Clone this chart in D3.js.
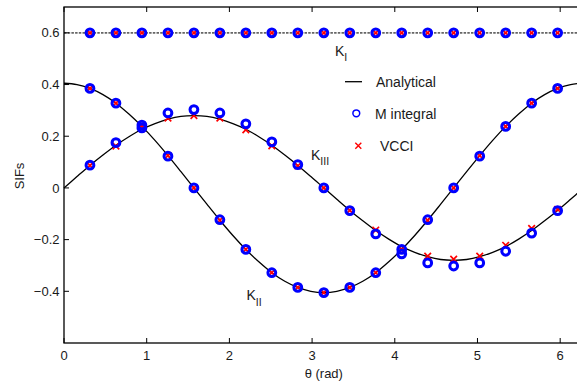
<!DOCTYPE html>
<html>
<head>
<meta charset="utf-8">
<script src="https://cdn.jsdelivr.net/npm/d3@7"></script>
<style>
html,body{margin:0;padding:0;background:#fff;}
svg{display:block;}
text{font-family:"Liberation Sans", Arial, Helvetica, sans-serif;fill:#1a1a1a;}
</style>
</head>
<body>
<svg id="chart" width="577" height="382"></svg>
<script>
// ---- data ----
const theta = [0.314, 0.628, 0.942, 1.257, 1.571, 1.885, 2.199, 2.513, 2.827, 3.142,
               3.456, 3.770, 4.084, 4.398, 4.712, 5.027, 5.341, 5.655, 5.969];
const kI_M    = [0.6,0.6,0.6,0.6,0.6,0.6,0.6,0.6,0.6,0.6,0.6,0.6,0.6,0.6,0.6,0.6,0.6,0.6,0.6];
const kI_VCCI = [0.6,0.6,0.6,0.6,0.6,0.6,0.6,0.6,0.6,0.6,0.6,0.6,0.6,0.6,0.6,0.6,0.6,0.6,0.6];
const kII_M    = [0.385, 0.328, 0.243, 0.123, 0.0, -0.123, -0.238, -0.328, -0.385, -0.405,
                  -0.385, -0.328, -0.238, -0.123, 0.0, 0.123, 0.238, 0.328, 0.385];
const kII_VCCI = [0.385, 0.328, 0.238, 0.125, 0.0, -0.125, -0.238, -0.328, -0.385, -0.405,
                  -0.385, -0.328, -0.238, -0.125, 0.0, 0.125, 0.238, 0.328, 0.385];
const kIII_M    = [0.088, 0.175, 0.232, 0.290, 0.303, 0.290, 0.248, 0.178, 0.090, 0.0,
                   -0.088, -0.178, -0.255, -0.290, -0.302, -0.290, -0.245, -0.175, -0.088];
const kIII_VCCI = [0.087, 0.162, 0.230, 0.270, 0.280, 0.270, 0.225, 0.163, 0.085, 0.0,
                   -0.087, -0.163, -0.240, -0.264, -0.276, -0.264, -0.222, -0.157, -0.083];

const thetaCurve = [0, 0.157, 0.314, 0.471, 0.628, 0.785, 0.942, 1.100, 1.257, 1.414, 1.571,
                    1.728, 1.885, 2.042, 2.199, 2.356, 2.513, 2.670, 2.827, 2.985, 3.142,
                    3.299, 3.456, 3.613, 3.770, 3.927, 4.084, 4.241, 4.398, 4.555, 4.712,
                    4.869, 5.027, 5.184, 5.341, 5.498, 5.655, 5.812, 5.969, 6.126, 6.283];
const kII_analytical = [0.405, 0.400, 0.385, 0.361, 0.328, 0.286, 0.238, 0.184, 0.125, 0.063, 0.0,
                        -0.063, -0.125, -0.184, -0.238, -0.286, -0.328, -0.361, -0.385, -0.400, -0.405,
                        -0.400, -0.385, -0.361, -0.328, -0.286, -0.238, -0.184, -0.125, -0.063, 0.0,
                        0.063, 0.125, 0.184, 0.238, 0.286, 0.328, 0.361, 0.385, 0.400, 0.405];
const kIII_analytical = [0.0, 0.044, 0.087, 0.127, 0.165, 0.198, 0.227, 0.249, 0.266, 0.277, 0.280,
                         0.277, 0.266, 0.249, 0.227, 0.198, 0.165, 0.127, 0.087, 0.044, 0.0,
                         -0.044, -0.087, -0.127, -0.165, -0.198, -0.227, -0.249, -0.266, -0.277, -0.280,
                         -0.277, -0.266, -0.249, -0.227, -0.198, -0.165, -0.127, -0.087, -0.044, 0.0];
const kILineTheta = [0, 6.283];
const kI_analytical = [0.6, 0.6];

const xTicks = [0, 1, 2, 3, 4, 5, 6];
const yTicks = [-0.4, -0.2, 0, 0.2, 0.4, 0.6];
const legendLabels = ["Analytical", "M integral", "VCCI"];

// ---- layout ----
const svg = d3.select("#chart");
const L = 64, R = 583.6, T = 7, B = 343;
const x = d3.scaleLinear().domain([0, 6.2832]).range([L, R]);
const y = d3.scaleLinear().domain([-0.6, 0.7]).range([B, T]);

const blue = "#0000ff", red = "#ff0000";

// analytical curves
const line = d3.line().x(d => x(d[0])).y(d => y(d[1])).curve(d3.curveCatmullRom);
svg.append("path")
  .attr("d", d3.line().x(d => x(d[0])).y(d => y(d[1]))(d3.zip(kILineTheta, kI_analytical)))
  .attr("fill", "none").attr("stroke", "#666").attr("stroke-width", 1.6)
  .attr("stroke-dasharray", "2.5,1.2");
[kII_analytical, kIII_analytical].forEach(arr => {
  svg.append("path")
    .attr("d", line(d3.zip(thetaCurve, arr)))
    .attr("fill", "none").attr("stroke", "#000").attr("stroke-width", 1.3);
});

// VCCI crosses (drawn first, circles on top)
function cross(g, cx, cy, h, sw) {
  g.append("path")
    .attr("d", `M${cx-h},${cy-h}L${cx+h},${cy+h}M${cx-h},${cy+h}L${cx+h},${cy-h}`)
    .attr("stroke", red).attr("stroke-width", sw).attr("fill", "none");
}
const gx = svg.append("g");
[kI_VCCI, kII_VCCI, kIII_VCCI].forEach(arr => {
  arr.forEach((v, i) => cross(gx, x(theta[i]), y(v), 3.3, 1.7));
});
const gc = svg.append("g");
[kI_M, kII_M, kIII_M].forEach(arr => {
  gc.selectAll(null).data(arr).enter().append("circle")
    .attr("cx", (d, i) => x(theta[i])).attr("cy", d => y(d))
    .attr("r", 3.9).attr("fill", "none").attr("stroke", blue).attr("stroke-width", 3);
});

// axes box
svg.append("rect").attr("x", L).attr("y", T).attr("width", R - L).attr("height", B - T)
  .attr("fill", "none").attr("stroke", "#000").attr("stroke-width", 1.3);

// ticks (inward, all four sides)
const tl = 5;
xTicks.forEach(t => {
  svg.append("line").attr("x1", x(t)).attr("x2", x(t)).attr("y1", B).attr("y2", B - tl)
    .attr("stroke", "#000").attr("stroke-width", 1);
  svg.append("line").attr("x1", x(t)).attr("x2", x(t)).attr("y1", T).attr("y2", T + tl)
    .attr("stroke", "#000").attr("stroke-width", 1);
  svg.append("text").attr("x", x(t)).attr("y", 360).attr("text-anchor", "middle")
    .attr("font-size", 13).text(d3.format("d")(t));
});
yTicks.forEach(t => {
  svg.append("line").attr("x1", L).attr("x2", L + tl).attr("y1", y(t)).attr("y2", y(t))
    .attr("stroke", "#000").attr("stroke-width", 1);
  svg.append("line").attr("x1", R).attr("x2", R - tl).attr("y1", y(t)).attr("y2", y(t))
    .attr("stroke", "#000").attr("stroke-width", 1);
  svg.append("text").attr("x", 59.5).attr("y", y(t) + 4.6).attr("text-anchor", "end")
    .attr("font-size", 13).text(t === 0 ? "0" : d3.format(".1f")(t).replace("-", "\u2212"));
});

// axis labels
svg.append("text").attr("x", (L + R) / 2).attr("y", 378).attr("text-anchor", "middle")
  .attr("font-size", 13).text("θ (rad)");
svg.append("text").attr("transform", "translate(24,176) rotate(-90)")
  .attr("text-anchor", "middle").attr("font-size", 13).text("SIFs");

// curve labels
function klabel(px, py, sub) {
  const t = svg.append("text").attr("x", px).attr("y", py).attr("font-size", 14);
  t.append("tspan").text("K");
  t.append("tspan").attr("font-size", 10.5).attr("dy", 5.5).text(sub);
}
klabel(335, 55.5, "I");
klabel(311, 159.5, "III");
klabel(246.5, 300, "II");

// legend
svg.append("line").attr("x1", 345).attr("x2", 362).attr("y1", 81.7).attr("y2", 81.7)
  .attr("stroke", "#000").attr("stroke-width", 1.3);
svg.append("circle").attr("cx", 356.3).attr("cy", 113.3).attr("r", 3.4)
  .attr("fill", "none").attr("stroke", blue).attr("stroke-width", 1.5);
cross(svg, 358.3, 145.7, 3, 1.4);
const legX = [376, 375, 380], legY = [86.5, 119, 150.5];
legendLabels.forEach((s, i) => {
  svg.append("text").attr("x", legX[i]).attr("y", legY[i]).attr("font-size", 14).text(s);
});
</script>
</body>
</html>
